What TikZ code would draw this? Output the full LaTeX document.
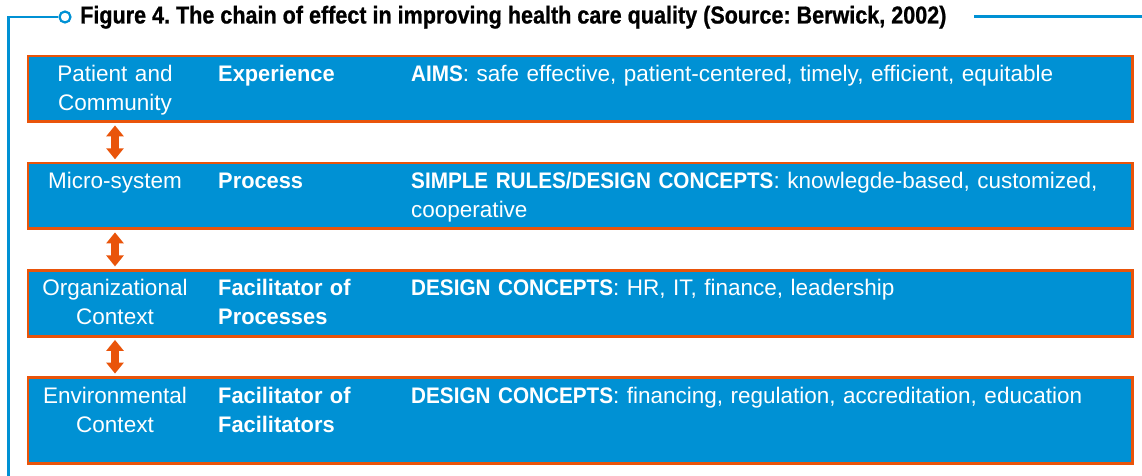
\documentclass[tikz,border=0pt]{standalone}
\usepackage{fontspec}
\setmainfont{Liberation Sans}[BoldFeatures={FakeStretch=0.97}]
\newfontfamily\titlefont{Liberation Sans Bold}[FakeStretch=0.88,FakeBold=0.8]
\newfontfamily\capsbold{Liberation Sans Bold}[FakeStretch=0.92]
\newcommand{\lbl}[1]{{\capsbold #1}}
\usetikzlibrary{arrows.meta,calc}
\definecolor{boxblue}{RGB}{0,145,212}
\definecolor{edgeorange}{RGB}{233,84,10}
\begin{document}
\frenchspacing
\begin{tikzpicture}[x=1pt,y=-1pt,
  rowbox/.style={draw=edgeorange, fill=boxblue, line width=2.7pt, rectangle, anchor=north west, minimum width=1104.5pt, inner sep=0pt},
  bodytext/.style={text=white, font=\fontsize{22.5}{29}\selectfont, inner sep=0pt},
  leftcol/.style={bodytext, align=center, anchor=base, text width=190pt},
  midcol/.style={bodytext, align=left, anchor=base west, text width=180pt, font=\fontsize{22.5}{29}\selectfont\bfseries},
  rightcol/.style={bodytext, align=left, anchor=base west, text width=900pt},
  dblarrow/.style={edgeorange, line width=8pt, {Triangle[length=11pt,width=17pt]}-{Triangle[length=11pt,width=17pt]}, shorten <=2.4pt, shorten >=2.4pt},
  frame/.style={draw=boxblue, line width=2.2pt}
]
\useasboundingbox (0,0) rectangle (1142,476);
% frame and title
\node[circle, frame, minimum size=11pt, inner sep=0pt] (circ) at (65,17) {};
\coordinate (corner) at (8.5,17);
\coordinate (bottomend) at (8.5,477);
\draw[frame] (circ.west) -- (corner) -- (bottomend);
\node[anchor=base west, inner sep=0pt, font=\titlefont\fontsize{24.5}{28}\selectfont] (title) at (80,23.5) {Figure 4. The chain of effect in improving health care quality (Source: Berwick, 2002)};
\coordinate (rstart) at (974,16.5);
\coordinate (rend) at (1143,16.5);
\draw[frame] (rstart) -- (rend);
% boxes
\node[rowbox, minimum height=65.6pt] (b1) at (26.5,54.7) {};
\node[rowbox, minimum height=65.6pt] (b2) at (26.5,161.7) {};
\node[rowbox, minimum height=66pt] (b3) at (26.5,268.8) {};
\node[rowbox, minimum height=86pt] (b4) at (26.5,376) {};
% texts
\node[leftcol] (l1) at (115,81.7) {Patient and\\Community};
\node[midcol] (m1) at (218,81.7) {Experience};
\node[rightcol] (r1) at (411,81.7) {\lbl{AIMS}: safe effective, patient-centered, timely, efficient, equitable};
\node[leftcol] (l2) at (115,188.7) {Micro-system};
\node[midcol] (m2) at (218,188.7) {Process};
\node[rightcol] (r2) at (411,188.7) {\lbl{SIMPLE RULES/DESIGN CONCEPTS}: knowlegde-based, customized,\\cooperative};
\node[leftcol] (l3) at (115,295.8) {Organizational\\Context};
\node[midcol] (m3) at (218,295.8) {Facilitator of\\Processes};
\node[rightcol] (r3) at (411,295.8) {\lbl{DESIGN CONCEPTS}: HR, IT, finance, leadership};
\node[leftcol] (l4) at (115,403) {Environmental\\Context};
\node[midcol] (m4) at (218,403) {Facilitator of\\Facilitators};
\node[rightcol] (r4) at (411,403) {\lbl{DESIGN CONCEPTS}: financing, regulation, accreditation, education};
% arrows
\coordinate (ax) at (115,0);
\draw[dblarrow] (b1.south -| ax) -- (b2.north -| ax);
\draw[dblarrow] (b2.south -| ax) -- (b3.north -| ax);
\draw[dblarrow] (b3.south -| ax) -- (b4.north -| ax);
\end{tikzpicture}
\end{document}
